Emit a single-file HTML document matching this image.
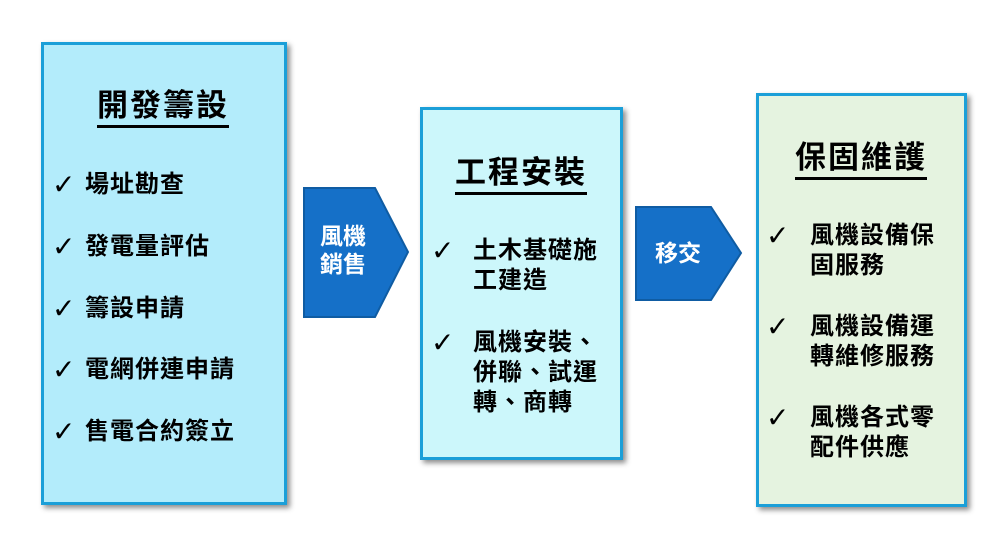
<!DOCTYPE html>
<html><head><meta charset="utf-8"><style>
body{margin:0;width:997px;height:539px;background:#fff;position:relative;overflow:hidden;font-family:"Liberation Sans","Noto Sans CJK TC",sans-serif;font-weight:bold;color:#000}
.box{position:absolute;border:3px solid #1b9fd8;box-shadow:3px 3px 5px rgba(0,0,0,.45);box-sizing:border-box}
.t{position:absolute;white-space:nowrap;line-height:30px}
.title{position:absolute;font-size:31px;letter-spacing:2px;border-bottom:3px solid #000;line-height:34px;padding-bottom:2px;font-weight:bold}
.ck{position:absolute;font-size:28px;font-weight:normal;font-family:"DejaVu Sans",sans-serif;line-height:30px}
.it{font-size:24px;letter-spacing:1px}
</style></head><body>
<div class="box" style="left:41px;top:42px;width:246px;height:463px;background:#b3ecfb"></div>
<div class="box" style="left:420px;top:107px;width:203px;height:353px;background:#ccf7fb"></div>
<div class="box" style="left:756px;top:93px;width:211px;height:414px;background:#e5f3e0"></div>

<svg style="position:absolute;left:0;top:0" width="997" height="539">
<polygon points="304,188 375,188 408,252 375,317 304,317" fill="#1570c8" stroke="#0f5ca3" stroke-width="2"/>
<polygon points="636,207 711,207 741,253 711,300 636,300" fill="#1570c8" stroke="#0f5ca3" stroke-width="2"/>
</svg>
<div class="t" style="left:320px;top:222px;color:#fff;font-size:23px;font-weight:bold;line-height:28px">風機<br>銷售</div>
<div class="t" style="left:655px;top:238px;color:#fff;font-size:23px;font-weight:bold">移交</div>

<div class="title" style="left:97px;top:89px">開發籌設</div>
<div class="ck" style="left:52px;top:170px">✓</div><div class="t it" style="left:85px;top:170px">場址勘查</div>
<div class="ck" style="left:52px;top:232px">✓</div><div class="t it" style="left:85px;top:232px">發電量評估</div>
<div class="ck" style="left:52px;top:294px">✓</div><div class="t it" style="left:85px;top:294px">籌設申請</div>
<div class="ck" style="left:52px;top:355px">✓</div><div class="t it" style="left:85px;top:355px">電網併連申請</div>
<div class="ck" style="left:52px;top:417px">✓</div><div class="t it" style="left:85px;top:417px">售電合約簽立</div>

<div class="title" style="left:455px;top:156px">工程安裝</div>
<div class="ck" style="left:431px;top:236px">✓</div><div class="t it" style="left:473px;top:236px">土木基礎施<br>工建造</div>
<div class="ck" style="left:431px;top:328px">✓</div><div class="t it" style="left:473px;top:328px">風機安裝、<br>併聯、試運<br>轉、商轉</div>

<div class="title" style="left:795px;top:141px">保固維護</div>
<div class="ck" style="left:766px;top:221px">✓</div><div class="t it" style="left:810px;top:221px">風機設備保<br>固服務</div>
<div class="ck" style="left:766px;top:312px">✓</div><div class="t it" style="left:810px;top:312px">風機設備運<br>轉維修服務</div>
<div class="ck" style="left:766px;top:403px">✓</div><div class="t it" style="left:810px;top:403px">風機各式零<br>配件供應</div>
</body></html>
